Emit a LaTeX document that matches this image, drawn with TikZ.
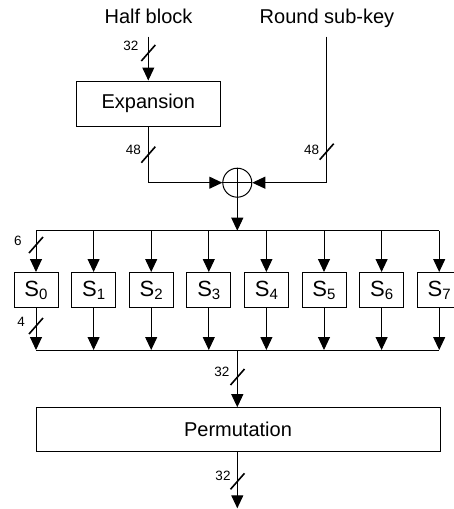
\documentclass[tikz,border=0pt]{standalone}
\usepackage{fontspec}
\setmainfont{Liberation Sans}
\usetikzlibrary{arrows.meta}
\begin{document}
\begin{tikzpicture}[x=1pt,y=-1pt,
  line width=1pt,
  arr/.style={-{Triangle[length=13pt,width=12pt]}},
  box/.style={draw, line width=1pt, inner sep=0pt, font=\fontsize{20}{24}\selectfont},
  sbox/.style={draw, line width=1pt, minimum width=44pt, minimum height=35pt, inner sep=0pt, font=\fontsize{22}{24}\selectfont},
  title/.style={font=\fontsize{20}{24}\selectfont, anchor=base, inner sep=0pt},
  num/.style={font=\fontsize{13.5}{15}\selectfont, inner sep=0pt},
  buswidth/.pic={\draw[line width=1.6pt] (-7,8) -- (7,-8);},
]
\useasboundingbox (0,0) rectangle (454,509);

% inputs
\node[title] (hb) at (148.5,23.3) {Half block};
\node[title] (rk) at (327,23.3) {Round sub-key};
\coordinate (hbin) at (148.3,36.7);
\coordinate (rkin) at (326.7,36.7);

% expansion and xor
\node[box, minimum width=144pt, minimum height=45pt] (exp) at (148.3,103.5) {Expansion};
\node[draw, circle, minimum size=29pt, inner sep=0pt] (xor) at (237.3,182.7) {};
\draw (xor.north) -- (xor.south) (xor.west) -- (xor.east);

\draw[arr] (hbin) -- (exp.north);
\draw[arr] (exp.south) |- (xor.west);
\draw[arr] (rkin) |- (xor.east);

\pic at (148.3,53) {buswidth};
\node[num] (n32a) at (131,46) {32};
\pic at (148.3,154.7) {buswidth};
\node[num] (n48a) at (133.3,149.5) {48};
\pic at (326.7,151.7) {buswidth};
\node[num] (n48b) at (311.7,149.5) {48};

% top bus
\coordinate (tl) at (36,230.7);
\coordinate (tr) at (439.2,230.7);
\coordinate (tc) at (237.3,230.7);
\draw[arr] (xor.south) -- (tc);
\draw (tl) -- (tr);

% bottom bus
\coordinate (bl) at (36,350);
\coordinate (br) at (439.2,350);
\coordinate (bc) at (237.3,350);
\draw (bl) -- (br);

% S-boxes
\foreach \i in {0,...,7} {
  \node[sbox] (s\i) at ({36+57.6*\i},290) {S\raisebox{-3pt}{\fontsize{15}{15}\selectfont\i}};
  \draw[arr] (s\i.north |- tl) -- (s\i.north);
  \draw[arr] (s\i.south) -- (s\i.south |- bl);
}
\pic at (36,245) {buswidth};
\node[num] (n6) at (17.8,241.2) {6};
\pic at (36,326) {buswidth};
\node[num] (n4) at (21.2,321.7) {4};

% permutation
\node[box, minimum width=404pt, minimum height=44pt] (perm) at (238,429.7) {Permutation};
\draw[arr] (bc) -- (bc |- perm.north);
\coordinate (out) at (237.3,508.3);
\draw[arr] (bc |- perm.south) -- (out);

\pic at (237.5,377) {buswidth};
\node[num] (n32b) at (222,372) {32};
\pic at (237.5,481.3) {buswidth};
\node[num] (n32c) at (223,476.3) {32};
\end{tikzpicture}
\end{document}
